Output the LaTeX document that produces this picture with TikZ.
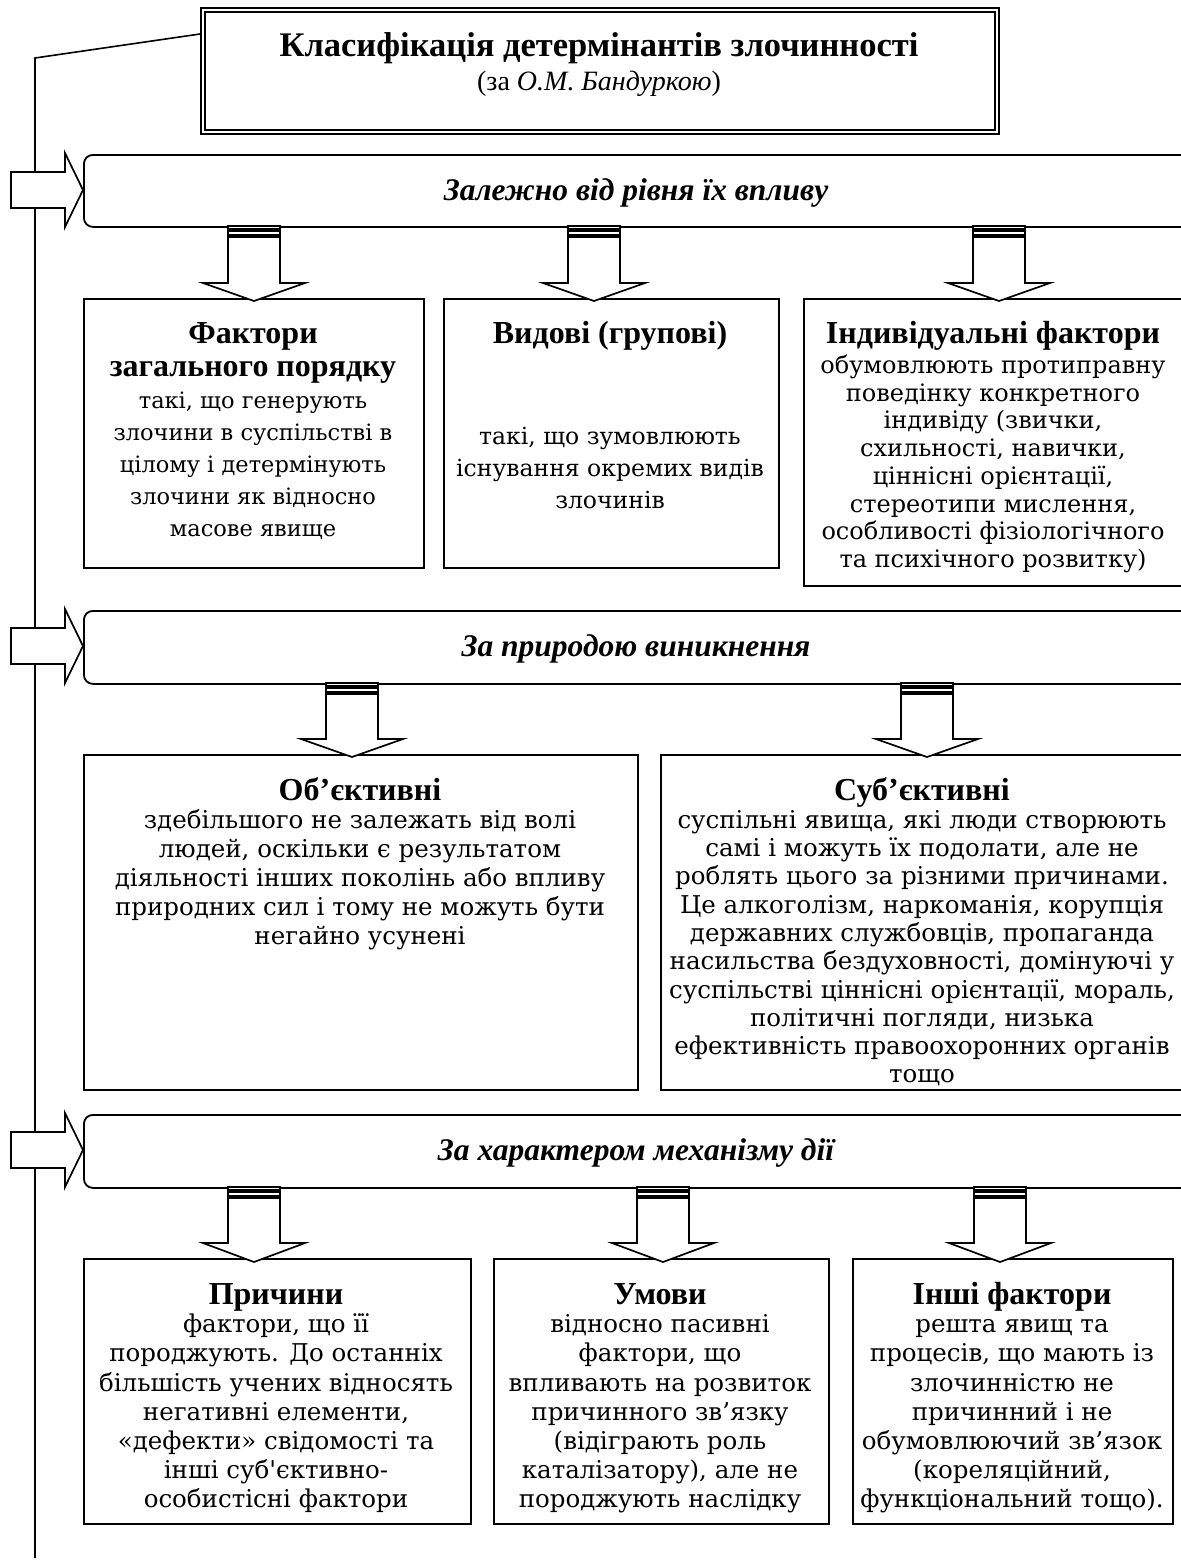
\documentclass[tikz,border=0pt]{standalone}
\usepackage{fontspec}
\setmainfont{DejaVu Serif}
\newfontfamily\hf{Liberation Serif}
\newcommand\dnarrow[4]{%
 \draw[arr] ({#1-26},#2) rectangle ({#1+26},{#2+3});
 \draw[arr] ({#1-26},{#2+5}) rectangle ({#1+26},{#2+9});
 \draw[arr] ({#1-26},{#2+11}) -- ({#1-26},#3) -- ({#1-51},#3) -- (#1,#4) -- ({#1+51},#3) -- ({#1+26},#3) -- ({#1+26},{#2+11}) -- cycle;}
\newcommand\rtarrow[1]{%
 \draw[arr] (11,{#1-18}) -- (65,{#1-18}) -- (65,{#1-37}) -- (83,#1) -- (65,{#1+37}) -- (65,{#1+18}) -- (11,{#1+18}) -- cycle;}
\tikzset{
 box/.style={draw, line width=1.8pt, inner sep=0pt, fill=white, anchor=north west},
 catbox/.style={draw, line width=1.8pt, rounded corners=9pt, inner sep=0pt, fill=white, anchor=north west},
 arr/.style={draw, line width=1.7pt, fill=white, line join=miter},
 head/.style={font=\hf\bfseries\fontsize{32}{33}\selectfont, inner sep=0pt, align=center, anchor=north},
 cattext/.style={font=\hf\bfseries\itshape\fontsize{31.5}{34}\selectfont, inner sep=0pt, anchor=base},
 body/.style={inner sep=0pt, align=center, anchor=north},
}
\begin{document}
\begin{tikzpicture}[x=1pt,y=-1pt]
\useasboundingbox (0,0) rectangle (1181,1564);
\clip (0,0) rectangle (1181,1564);
% title
\node[box, minimum width=798pt, minimum height=126pt] (title) at (200,7) {};
\draw[line width=1.8pt] ([shift={(5,5)}]title.north west) rectangle ([shift={(-5,-5)}]title.south east);
\node[font=\hf\bfseries\fontsize{34.5}{38}\selectfont, inner sep=0pt, anchor=base] (ttext) at (599,56) {Класифікація детермінантів злочинності};
\node[font=\hf\fontsize{28}{32}\selectfont, inner sep=0pt, anchor=base] (tsub) at (599,90) {(за \textit{О.М. Бандуркою})};
% left connector line
\coordinate (lt) at (35,58);
\coordinate (lb) at (35,1558);
\coordinate (tatt) at (200,34);
\draw[line width=1.6pt] (lb) -- (lt) -- (tatt);
% category boxes
\node[catbox, minimum width=1106pt, minimum height=72pt] (c1) at (83,154) {};
\node[catbox, minimum width=1106pt, minimum height=73pt] (c2) at (83,610) {};
\node[catbox, minimum width=1106pt, minimum height=73pt] (c3) at (83,1114) {};
\node[cattext] (c1t) at (636,200) {Залежно від рівня їх впливу};
\node[cattext] (c2t) at (636,656) {За природою виникнення};
\node[cattext] (c3t) at (636,1160) {За характером механізму дії};
\rtarrow{190}
\rtarrow{646}
\rtarrow{1150}
% row 1 boxes
\node[box, minimum width=340pt, minimum height=269pt] (bA) at (83,298) {};
\node[box, minimum width=335pt, minimum height=269pt] (bB) at (443,298) {};
\node[box, minimum width=381pt, minimum height=287pt] (bC) at (803,298) {};
\dnarrow{254}{226}{283}{301}
\dnarrow{594}{226}{283}{301}
\dnarrow{999}{226}{283}{301}
\node[head] (hA) at (253,320) {\strut Фактори\\загального порядку};
\node[body, font=\fontsize{22.5}{32}\selectfont] (tA) at (253,386) {\strut такі, що генерують\\злочини в суспільстві в\\цілому і детермінують\\злочини як відносно\\масове явище};
\node[head] (hB) at (610,320) {\strut Видові (групові)};
\node[body, font=\fontsize{23.5}{32}\selectfont] (tB) at (610,422) {\strut такі, що зумовлюють\\існування окремих видів\\злочинів};
\node[head] (hC) at (993,320) {\strut Індивідуальні фактори};
\node[body, font=\fontsize{24}{27.7}\selectfont] (tC) at (993,354) {\strut обумовлюють протиправну\\поведінку конкретного\\індивіду (звички,\\схильності, навички,\\ціннісні орієнтації,\\стереотипи мислення,\\особливості фізіологічного\\та психічного розвитку)};
% row 2 boxes
\node[box, minimum width=554pt, minimum height=335pt] (bO) at (83,754) {};
\node[box, minimum width=524pt, minimum height=335pt] (bS) at (660,754) {};
\dnarrow{352}{683}{739}{757}
\dnarrow{927}{683}{739}{757}
\node[head] (hO) at (360,777) {\strut Об’єктивні};
\node[body, font=\fontsize{24.5}{29}\selectfont] (tO) at (360,808) {\strut здебільшого не залежать від волі\\людей, оскільки є результатом\\діяльності інших поколінь або впливу\\природних сил і тому не можуть бути\\негайно усунені};
\node[head] (hS) at (922,777) {\strut Суб’єктивні};
\node[body, font=\fontsize{24.5}{28.3}\selectfont] (tS) at (922,808.2) {\strut суспільні явища, які люди створюють\\самі і можуть їх подолати, але не\\роблять цього за різними причинами.\\Це алкоголізм, наркоманія, корупція\\державних службовців, пропаганда\\насильства бездуховності, домінуючі у\\суспільстві ціннісні орієнтації, мораль,\\політичні погляди, низька\\ефективність правоохоронних органів\\тощо};
% row 3 boxes
\node[box, minimum width=387pt, minimum height=265pt] (bP) at (83,1258) {};
\node[box, minimum width=335pt, minimum height=265pt] (bU) at (493,1258) {};
\node[box, minimum width=320pt, minimum height=265pt] (bI) at (852,1258) {};
\dnarrow{254}{1187}{1243}{1262}
\dnarrow{663}{1187}{1243}{1262}
\dnarrow{1000}{1187}{1243}{1262}
\node[head] (hP) at (276,1281) {\strut Причини};
\node[body, font=\fontsize{24.5}{29.2}\selectfont] (tP) at (276,1312) {\strut фактори, що її\\породжують. До останніх\\більшість учених відносять\\негативні елементи,\\«дефекти» свідомості та\\інші суб\textquotesingle єктивно-\\особистісні фактори};
\node[head] (hU) at (660,1281) {\strut Умови};
\node[body, font=\fontsize{24.5}{29.2}\selectfont] (tU) at (660,1312) {\strut відносно пасивні\\фактори, що\\впливають на розвиток\\причинного зв’язку\\(відіграють роль\\каталізатору), але не\\породжують наслідку};
\node[head] (hI) at (1012,1281) {\strut Інші фактори};
\node[body, font=\fontsize{24.5}{29.2}\selectfont] (tI) at (1012,1312) {\strut решта явищ та\\процесів, що мають із\\злочинністю не\\причинний і не\\обумовлюючий зв’язок\\(кореляційний,\\функціональний тощо).};
\end{tikzpicture}
\end{document}
